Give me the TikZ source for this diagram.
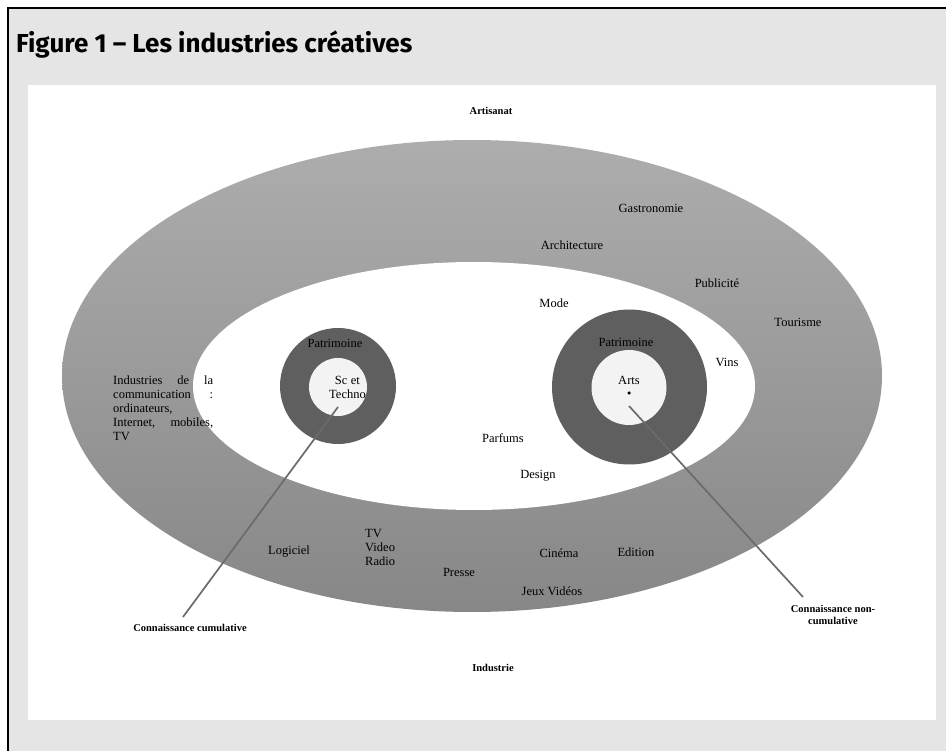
\documentclass[tikz,border=0pt]{standalone}
\usepackage{fontspec}
\setmainfont{Liberation Serif}
\newfontfamily\titlefont{Fira Sans}
\usepackage{tikz}

\definecolor{panelgray}{HTML}{E5E5E5}
\definecolor{ringgray}{HTML}{5F5F5F}
\definecolor{corelight}{HTML}{F3F3F3}
\definecolor{bandtop}{HTML}{ADADAD}
\definecolor{bandbottom}{HTML}{878787}
\definecolor{leadgray}{HTML}{6B6B6B}

\tikzset{
  lbl/.style={font=\fontsize{12.5}{14}\selectfont, inner sep=0pt},
  boldlbl/.style={font=\fontsize{10.5}{12}\selectfont\bfseries, inner sep=0pt, align=center},
  ring/.style={circle, fill=ringgray, inner sep=0pt},
  core/.style={circle, fill=corelight, inner sep=0pt},
  lead/.style={draw=leadgray, line width=1.7pt},
}

\begin{document}
\begin{tikzpicture}[x=1pt,y=-1pt]
\useasboundingbox (0,0) rectangle (946,751);
\fill[panelgray] (8,8) rectangle (946,751);
\draw[line width=1.5pt] (8,751) -- (8,8) -- (946,8);
\node[anchor=west, inner sep=0pt, font=\titlefont\bfseries\fontsize{26}{29}\selectfont] (title) at (16,45) {Figure 1 – Les industries créatives};
\fill[white] (28,85) rectangle (936,720);

\shade[top color=bandtop, bottom color=bandbottom] (472,376) ellipse (410 and 236);
\fill[white] (474,386) ellipse (281 and 124);

\node[ring, minimum size=116pt] (scring) at (338,386) {};
\node[core, minimum size=58pt] (sccore) at (338,387) {};
\node[ring, minimum size=155pt] (artsring) at (629.5,387) {};
\node[core, minimum size=75pt] (artscore) at (629,387.5) {};
\node[circle, fill, inner sep=0pt, minimum size=3.5pt] (artsdot) at (629,393) {};

\node[boldlbl] (artisanat) at (491,111) {Artisanat};
\node[boldlbl] (industrie) at (493,668) {Industrie};

\node[lbl] (gastro) at (651,208) {Gastronomie};
\node[lbl] (archi) at (572,245) {Architecture};
\node[lbl] (pub) at (717,283) {Publicité};
\node[lbl] (mode) at (554,303) {Mode};
\node[lbl] (tourisme) at (798,322) {Tourisme};
\node[lbl] (patrileft) at (335,343) {Patrimoine};
\node[lbl] (patriright) at (626,342) {Patrimoine};
\node[lbl] (vins) at (727,362) {Vins};
\node[lbl] (arts) at (629,380) {Arts};
\node[lbl, text width=40pt, align=right, anchor=base east] (sctech) at (366,385) {\makebox[31pt][l]{\makebox[25pt][s]{Sc\hfill et}}\\Techno};
\node[lbl, text width=100pt, anchor=base west] (comm) at (113,385)
  {\makebox[100pt][s]{Industries\hfill de\hfill la}\\\makebox[100pt][s]{communication\hfill :}\\ordinateurs,\\\makebox[100pt][s]{Internet,\hfill mobiles,}\\TV};
\node[lbl] (parfums) at (503,438) {Parfums};
\node[lbl] (design) at (538,476) {Design};
\node[lbl] (logiciel) at (289,552) {Logiciel};
\node[lbl, text width=40pt, anchor=base west] (tvradio) at (365,537) {TV\\Video\\Radio};
\node[lbl] (presse) at (459,572) {Presse};
\node[lbl] (cinema) at (559,553) {Cinéma};
\node[lbl] (edition) at (636,552) {Edition};
\node[lbl] (jeux) at (552,591) {Jeux Vidéos};

\node[boldlbl] (cumul) at (190,628) {Connaissance cumulative};
\node[boldlbl] (noncumul) at (833,615) {Connaissance non-\\cumulative};

\coordinate (scstem) at (338,407);
\coordinate (cumtip) at (183,617);
\coordinate (artsstem) at (629,406);
\coordinate (noncumtip) at (803,597);
\draw[lead] (scstem) -- (cumtip);
\draw[lead] (artsstem) -- (noncumtip);
\end{tikzpicture}
\end{document}
